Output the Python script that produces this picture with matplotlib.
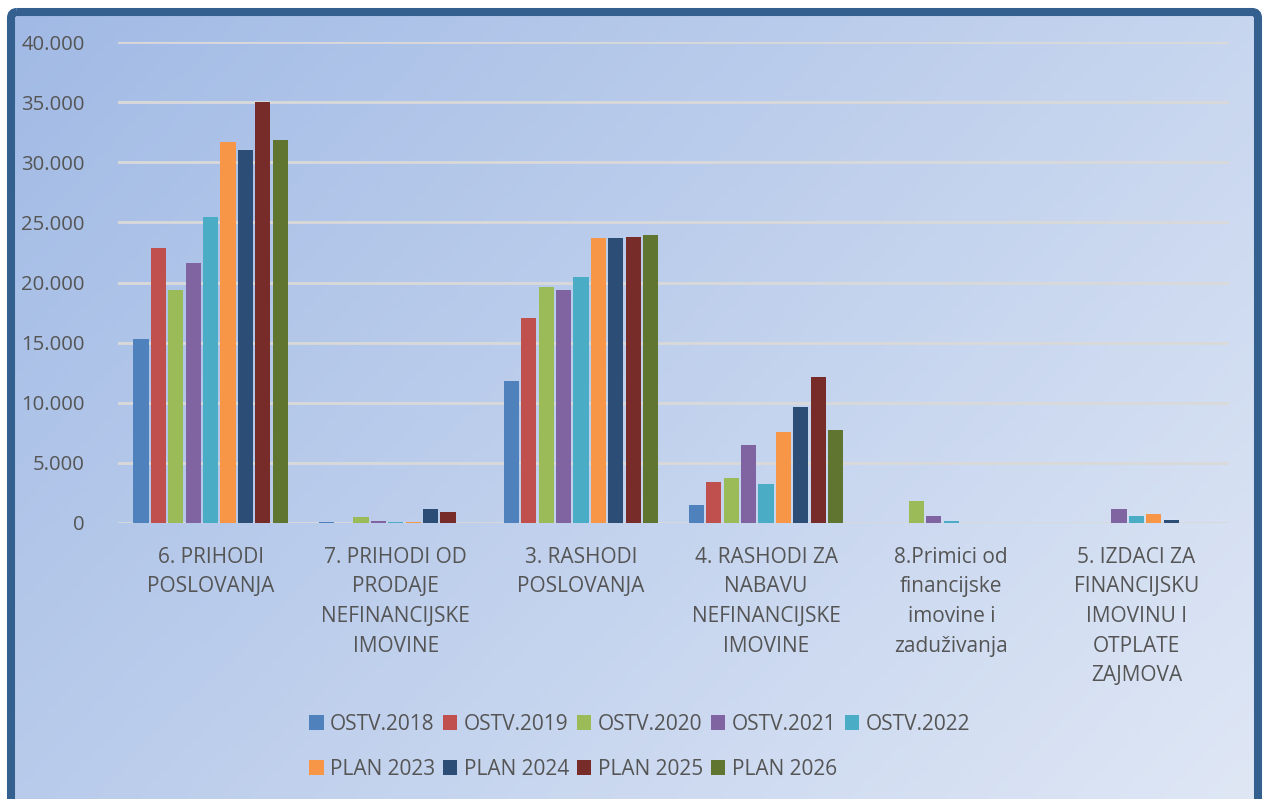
import matplotlib
matplotlib.use('Agg')
import matplotlib.pyplot as plt
import numpy as np
from matplotlib.patches import FancyBboxPatch, Patch
from matplotlib.ticker import FuncFormatter

plt.rcParams['font.family'] = ['Open Sans', 'DejaVu Sans']

categories = ["6. PRIHODI\nPOSLOVANJA",
              "7. PRIHODI OD\nPRODAJE\nNEFINANCIJSKE\nIMOVINE",
              "3. RASHODI\nPOSLOVANJA",
              "4. RASHODI ZA\nNABAVU\nNEFINANCIJSKE\nIMOVINE",
              "8.Primici od\nfinancijske\nimovine i\nzaduživanja",
              "5. IZDACI ZA\nFINANCIJSKU\nIMOVINU I\nOTPLATE\nZAJMOVA"]
series = ["OSTV.2018", "OSTV.2019", "OSTV.2020", "OSTV.2021", "OSTV.2022",
          "PLAN 2023", "PLAN 2024", "PLAN 2025", "PLAN 2026"]
ostv_2018 = [15300, 100, 11800, 1500, 0, 0]
ostv_2019 = [22870, 0, 17050, 3400, 0, 0]
ostv_2020 = [19400, 500, 19600, 3750, 1800, 0]
ostv_2021 = [21600, 200, 19400, 6500, 580, 1160]
ostv_2022 = [25450, 100, 20450, 3250, 170, 580]
plan_2023 = [31700, 100, 23700, 7600, 0, 750]
plan_2024 = [31000, 1200, 23700, 9650, 0, 250]
plan_2025 = [35000, 900, 23750, 12150, 0, 30]
plan_2026 = [31850, 0, 23950, 7750, 0, 30]
values = [ostv_2018, ostv_2019, ostv_2020, ostv_2021, ostv_2022,
          plan_2023, plan_2024, plan_2025, plan_2026]
colors = ["#4F81BD", "#C0504D", "#9BBB59", "#8064A2", "#4BACC6",
          "#F79646", "#2C4D75", "#772C2A", "#5F7530"]

W, H = 1263, 799
fig = plt.figure(figsize=(W / 100, H / 100), dpi=100)
fig.patch.set_facecolor('white')

# background with gradient and frame
bg = fig.add_axes([0, 0, 1, 1])
bg.set_xlim(0, W)
bg.set_ylim(H, 0)
bg.axis('off')
c0 = np.array([0xA1, 0xBA, 0xE5]) / 255
c1 = np.array([0xDF, 0xE7, 0xF5]) / 255
xx, yy = np.meshgrid(np.linspace(0, 1, 200), np.linspace(0, 1, 120))
t = np.clip(0.62 * xx + 0.38 * yy, 0, 1)[..., None]
grad = c0 * (1 - t) + c1 * t
bg.imshow(grad, extent=(11, 1258, 799, 12), aspect='auto', zorder=0)
frame = FancyBboxPatch((11, 12), 1247, 800, boxstyle="round,pad=0,rounding_size=6",
                       facecolor='none', edgecolor='#34608F', linewidth=5.8, zorder=2)
bg.add_patch(frame)

ax = fig.add_axes([118 / W, 276 / H, 1111 / W, 481 / H])
ax.patch.set_alpha(0)
x = np.arange(len(categories))
step = 0.094
bw = 0.082
for i, (vals, col) in enumerate(zip(values, colors)):
    ax.bar(x + (i - 4) * step, vals, width=bw, color=col, zorder=3)

ax.set_xlim(-0.5, len(categories) - 0.5)
ax.set_ylim(0, 40000)
ax.set_yticks(np.arange(0, 40001, 5000))
ax.yaxis.set_major_formatter(FuncFormatter(lambda v, p: f"{int(v):,}".replace(",", ".")))
ax.grid(axis='y', color='#D9D9D9', linewidth=2, zorder=1)
for s in ax.spines.values():
    s.set_visible(False)
ax.tick_params(axis='both', length=0, labelcolor='#555555')
ax.tick_params(axis='y', labelsize=14.6, pad=24)
ax.set_xticks(x)
ax.set_xticklabels(categories, fontsize=15, linespacing=1.54, va='top')
ax.tick_params(axis='x', pad=17)

handles = [Patch(facecolor=c, edgecolor='none') for c in colors]
order = [0, 5, 1, 6, 2, 7, 3, 8, 4]
leg = fig.legend([handles[k] for k in order], [series[k] for k in order], ncol=5,
                 loc='upper left', bbox_to_anchor=(309 / W, 1 - 714 / H), frameon=False,
                 fontsize=15, handlelength=0.7, handleheight=0.7, handletextpad=0.3,
                 columnspacing=0.38, labelspacing=1.15, borderpad=0, borderaxespad=0)
for txt in leg.get_texts():
    txt.set_color('#555555')

fig.savefig('out.png', dpi=100)
